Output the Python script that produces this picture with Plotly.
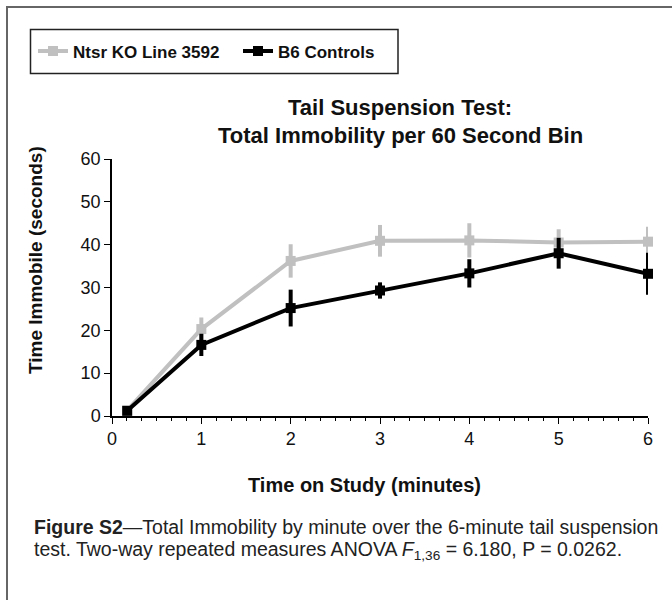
import plotly.graph_objects as go

# Data
minutes = [0.17, 1, 2, 3, 4, 5, 6]
ko_mean = [1.3, 20.3, 36.2, 40.9, 41.0, 40.5, 40.7]
ko_err = [0.5, 2.7, 3.9, 3.7, 4.0, 3.1, 3.5]
b6_mean = [1.2, 16.6, 25.2, 29.3, 33.3, 38.0, 33.2]
b6_err = [0.5, 2.6, 4.3, 1.9, 3.3, 3.6, 4.9]

x_ticks = [0, 1, 2, 3, 4, 5, 6]
y_ticks = [0, 10, 20, 30, 40, 50, 60]

FONT = "Liberation Sans, Arial, sans-serif"
GRAY = "#c0c0c0"

# plot area in pixels
L, R, T, B = 112, 648, 159, 416
W, H = 672, 600


def px(x):
    return (x - L) / (R - L)


def py(y):
    return (B - y) / (B - T)


fig = go.Figure()
fig.add_trace(go.Scatter(
    x=minutes, y=ko_mean, name="Ntsr KO Line 3592", mode="lines+markers",
    line=dict(color=GRAY, width=4), cliponaxis=False,
    marker=dict(symbol="square", size=10, color=GRAY),
    error_y=dict(type="data", array=ko_err, color=GRAY, thickness=4, width=0),
))
fig.add_trace(go.Scatter(
    x=minutes, y=b6_mean, name="B6 Controls", mode="lines+markers",
    line=dict(color="black", width=4), cliponaxis=False,
    marker=dict(symbol="square", size=10, color="black"),
    error_y=dict(type="data", array=b6_err, color="black", thickness=4, width=0),
))

ann_font = dict(family=FONT, color="#111")
fig.update_layout(
    width=W, height=H,
    margin=dict(l=L, r=W - R, t=T, b=H - B, pad=0),
    paper_bgcolor="white", plot_bgcolor="white",
    font=dict(family=FONT, size=17, color="#111"),
    showlegend=True,
    legend=dict(
        orientation="h", x=px(33), y=py(51.5), xanchor="left", yanchor="middle",
        borderwidth=0, bgcolor="rgba(0,0,0,0)",
        font=dict(family=FONT, size=17, color="#111", weight="bold"),
        itemwidth=30, entrywidth=160, entrywidthmode="pixels",
    ),
    xaxis=dict(
        range=[0, 6], tickvals=x_ticks, ticks="outside", ticklen=6, tickwidth=1.2,
        tickcolor="black", showline=True, linecolor="black", linewidth=1.5,
        showgrid=False, zeroline=False, tickfont=dict(size=18),
        minor=dict(dtick=1 / 6, ticks="outside", ticklen=3, tickcolor="black", tickwidth=1, showgrid=False),
    ),
    yaxis=dict(
        range=[0, 60], tickvals=y_ticks, ticks="outside", ticklen=6, tickwidth=1.2,
        tickcolor="black", showline=True, linecolor="black", linewidth=1.5,
        showgrid=False, zeroline=False, tickfont=dict(size=18),
    ),
    annotations=[
        dict(text="<b>Tail Suspension Test:</b>",
             xref="paper", yref="paper", x=px(400), y=py(107), xanchor="center", yanchor="middle",
             showarrow=False, font=dict(size=22, **ann_font)),
        dict(text="<b>Total Immobility per 60 Second Bin</b>",
             xref="paper", yref="paper", x=px(400), y=py(135), xanchor="center", yanchor="middle",
             showarrow=False, font=dict(size=22, **ann_font)),
        dict(text="<b>Time Immobile (seconds)</b>", textangle=-90,
             xref="paper", yref="paper", x=px(35), y=py(260), xanchor="center", yanchor="middle",
             showarrow=False, font=dict(size=19, **ann_font)),
        dict(text="<b>Time on Study (minutes)</b>",
             xref="paper", yref="paper", x=px(364), y=py(485), xanchor="center", yanchor="middle",
             showarrow=False, font=dict(size=20, **ann_font)),
        dict(text="<b>Figure S2</b>—Total Immobility by minute over the 6-minute tail suspension",
             xref="paper", yref="paper", x=px(32), y=py(527), xanchor="left", yanchor="middle",
             align="left", showarrow=False, font=dict(size=19.5, family=FONT, color="#222")),
        dict(text="test. Two-way repeated measures ANOVA <i>F</i><sub>1,36</sub> = 6.180, P = 0.0262.",
             xref="paper", yref="paper", x=px(32), y=py(550), xanchor="left", yanchor="middle",
             align="left", showarrow=False, font=dict(size=19.5, family=FONT, color="#222")),
    ],
    shapes=[
        dict(type="rect", xref="paper", yref="paper",
             x0=px(7), y0=py(620), x1=px(690), y1=py(7),
             line=dict(color="#666", width=2), fillcolor="rgba(0,0,0,0)", layer="below"),
        dict(type="rect", xref="paper", yref="paper",
             x0=px(30.5), y0=py(73.5), x1=px(398), y1=py(29.5),
             line=dict(color="#222", width=1.5), fillcolor="rgba(0,0,0,0)", layer="below"),
    ],
)

fig.write_html("out.html")
